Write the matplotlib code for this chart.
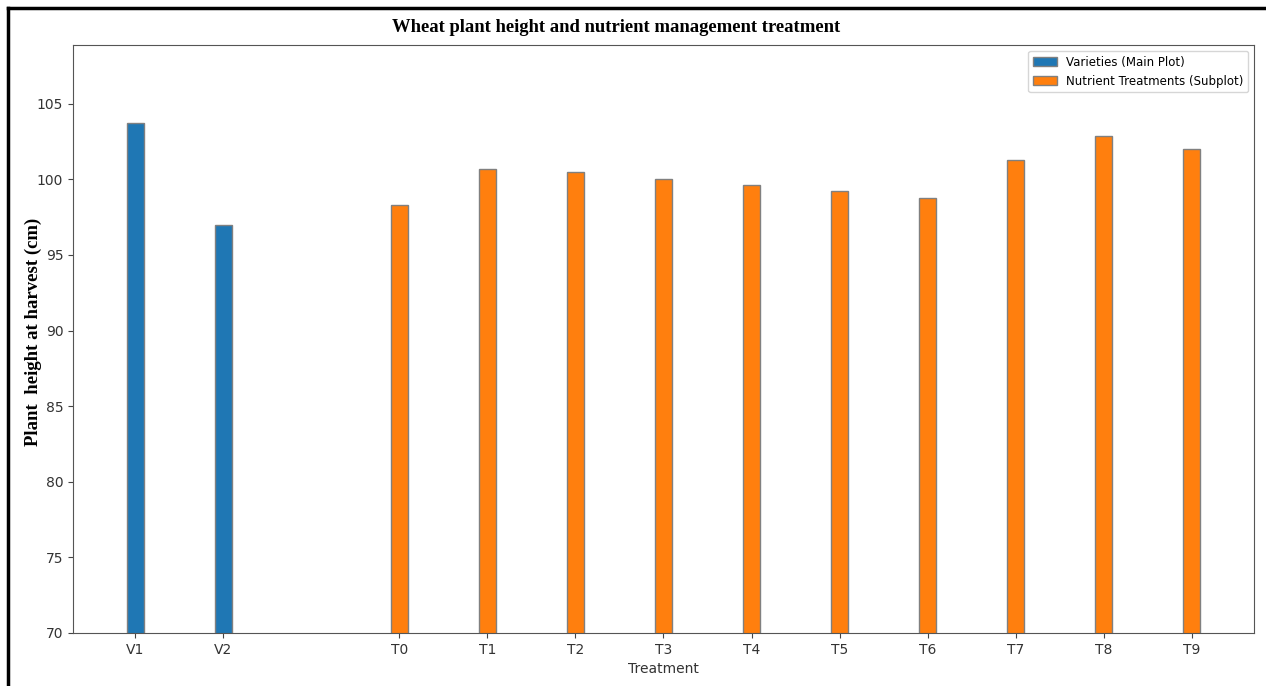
import matplotlib
matplotlib.use("Agg")
import matplotlib.pyplot as plt
from matplotlib.lines import Line2D

# values
variety_labels = ["V1", "V2"]
variety_heights = [103.7, 97.0]
treatment_labels = ["T0", "T1", "T2", "T3", "T4", "T5", "T6", "T7", "T8", "T9"]
treatment_heights = [98.3, 100.7, 100.5, 100.0, 99.6, 99.2, 98.8, 101.3, 102.9, 102.0]

W, H = 1266, 686
fig = plt.figure(figsize=(W / 100, H / 100), dpi=100)
ax = fig.add_axes([73 / W, 1 - 633 / H, (1254 - 73) / W, (633 - 45) / H])

v_pos = list(range(len(variety_labels)))
t_pos = [len(variety_labels) + 1 + i for i in range(len(treatment_labels))]

ax.bar(v_pos, variety_heights, width=0.2, color="#1f77b4", edgecolor="grey",
       label="Varieties (Main Plot)")
ax.bar(t_pos, treatment_heights, width=0.2, color="#ff7f0e", edgecolor="grey",
       label="Nutrient Treatments (Subplot)")

ax.set_xticks(v_pos + t_pos)
ax.set_xticklabels(variety_labels + treatment_labels)
ax.set_ylim(bottom=70)
ax.set_xlabel("Treatment", color="#333333")
ax.tick_params(colors="#444444", labelcolor="#333333")
for s in ax.spines.values():
    s.set_color("#555555")
ax.legend(loc="upper right", fontsize=8.5)

fig.text(616 / W, 1 - 28 / H, "Wheat plant height and nutrient management treatment",
         ha="center", va="center", family="Liberation Serif", weight="bold", fontsize=13.4)
fig.text(33 / W, 1 - 332 / H, "Plant  height at harvest (cm)", rotation=90,
         ha="center", va="center", family="Liberation Serif", weight="bold", fontsize=13.5)

# black frame on the top and left edge of the picture
fig.add_artist(Line2D([8 / W, 1], [1 - 8 / H, 1 - 8 / H], color="black", lw=2.5,
                      transform=fig.transFigure))
fig.add_artist(Line2D([8 / W, 8 / W], [0, 1 - 8 / H], color="black", lw=2.5,
                      transform=fig.transFigure))

fig.savefig("out.png", dpi=100)
